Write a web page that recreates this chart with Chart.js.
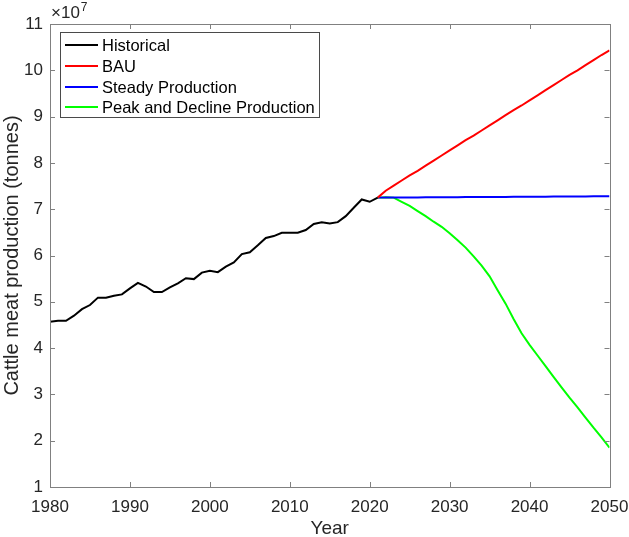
<!DOCTYPE html>
<html><head><meta charset="utf-8">
<script src="https://cdn.jsdelivr.net/npm/chart.js@4/dist/chart.umd.min.js"></script>
<style>html,body{margin:0;padding:0;background:#fff}#wrap{width:629px;height:537px}</style>
</head><body><div id="wrap"><canvas id="c" width="629" height="537"></canvas></div>
<script>
// values in units of 10^7 tonnes
const histYears = [1980,1981,1982,1983,1984,1985,1986,1987,1988,1989,1990,1991,1992,1993,1994,1995,1996,1997,1998,1999,2000,2001,2002,2003,2004,2005,2006,2007,2008,2009,2010,2011,2012,2013,2014,2015,2016,2017,2018,2019,2020,2021];
const histValues = [4.57,4.59,4.59,4.70,4.84,4.93,5.09,5.09,5.13,5.16,5.29,5.41,5.33,5.21,5.21,5.31,5.40,5.51,5.49,5.63,5.67,5.64,5.76,5.85,6.03,6.07,6.22,6.38,6.42,6.49,6.49,6.49,6.55,6.68,6.72,6.69,6.72,6.85,7.03,7.21,7.16,7.25];
const projYears = [2021,2022,2023,2024,2025,2026,2027,2028,2029,2030,2031,2032,2033,2034,2035,2036,2037,2038,2039,2040,2041,2042,2043,2044,2045,2046,2047,2048,2049,2050];
const bauValues = [7.25,7.40,7.51,7.62,7.73,7.83,7.94,8.05,8.16,8.27,8.38,8.49,8.59,8.70,8.81,8.92,9.03,9.14,9.24,9.35,9.46,9.57,9.68,9.79,9.90,10.00,10.11,10.22,10.33,10.43];
const steadyValues = [7.250,7.251,7.252,7.253,7.254,7.255,7.256,7.257,7.258,7.259,7.260,7.261,7.262,7.263,7.264,7.265,7.266,7.267,7.268,7.269,7.270,7.271,7.272,7.273,7.274,7.275,7.276,7.277,7.278,7.279];
const peakValues = [7.25,7.26,7.25,7.16,7.07,6.96,6.85,6.73,6.62,6.48,6.33,6.17,5.98,5.78,5.55,5.25,4.96,4.63,4.32,4.07,3.84,3.61,3.38,3.15,2.93,2.72,2.50,2.28,2.07,1.85];
const seriesLabels = ["Historical","BAU","Steady Production","Peak and Decline Production"];
const seriesColors = ["#000000","#ff0000","#0000ff","#00ff00"];
const xTicks = [1980,1990,2000,2010,2020,2030,2040,2050];
const yTicks = [1,2,3,4,5,6,7,8,9,10,11];

const FONT = "'Liberation Sans', Arial, Helvetica, sans-serif";
const AXIS_COLOR = "#808080";
const TEXT_COLOR = "#262626";

function pts(xs, ys){ return xs.map((x,i)=>({x:x, y:ys[i]})); }

const boxPlugin = {
  id: 'boxTicks',
  afterDatasetsDraw(chart){
    const ctx = chart.ctx, a = chart.chartArea;
    const xs = chart.scales.x, ys = chart.scales.y;
    ctx.save();
    ctx.strokeStyle = AXIS_COLOR; ctx.lineWidth = 1;
    ctx.strokeRect(Math.round(a.left)+0.5, Math.round(a.top)+0.5, Math.round(a.right-a.left), Math.round(a.bottom-a.top));
    const tl = 5;
    ctx.beginPath();
    xTicks.forEach(v=>{
      const px = Math.round(xs.getPixelForValue(v))+0.5;
      ctx.moveTo(px, a.bottom); ctx.lineTo(px, a.bottom - tl);
      ctx.moveTo(px, a.top); ctx.lineTo(px, a.top + tl);
    });
    yTicks.forEach(v=>{
      const py = Math.round(ys.getPixelForValue(v))+0.5;
      ctx.moveTo(a.left, py); ctx.lineTo(a.left + tl, py);
      ctx.moveTo(a.right, py); ctx.lineTo(a.right - tl, py);
    });
    ctx.stroke();
    // exponent label
    ctx.fillStyle = TEXT_COLOR;
    ctx.font = "17px " + FONT;
    ctx.textBaseline = 'alphabetic'; ctx.textAlign = 'left';
    ctx.fillText("\u00d710", a.left + 1, a.top - 6);
    const w = ctx.measureText("\u00d710").width;
    ctx.font = "12px " + FONT;
    ctx.fillText("7", a.left + 1 + w + 1, a.top - 13);
    // legend
    const lx = 60, ly = 32, lw = 259, lh = 85;
    ctx.fillStyle = '#ffffff';
    ctx.fillRect(lx, ly, lw, lh);
    ctx.strokeStyle = '#4a4a4a';
    ctx.strokeRect(lx+0.5, ly+0.5, lw, lh);
    ctx.font = "16.5px " + FONT;
    ctx.textBaseline = 'middle';
    const rowY = [45, 66, 87, 107];
    chart.data.datasets.forEach((ds,i)=>{
      ctx.strokeStyle = ds.borderColor; ctx.lineWidth = 2;
      ctx.beginPath(); ctx.moveTo(65, rowY[i]); ctx.lineTo(98, rowY[i]); ctx.stroke();
      ctx.fillStyle = '#000';
      ctx.fillText(ds.label, 102, rowY[i]+1);
    });
    ctx.restore();
  }
};

new Chart(document.getElementById('c'), {
  type: 'line',
  data: {
    datasets: [
      {label: seriesLabels[0], data: pts(histYears, histValues), borderColor: seriesColors[0]},
      {label: seriesLabels[1], data: pts(projYears, bauValues), borderColor: seriesColors[1]},
      {label: seriesLabels[2], data: pts(projYears, steadyValues), borderColor: seriesColors[2]},
      {label: seriesLabels[3], data: pts(projYears, peakValues), borderColor: seriesColors[3]}
    ]
  },
  options: {
    responsive: false,
    animation: false,
    devicePixelRatio: 1,
    layout: {padding: {top: 24, right: 0, left: 0, bottom: 0}},
    elements: {point: {radius: 0}, line: {borderWidth: 2, tension: 0}},
    plugins: {legend: {display: false}, tooltip: {enabled: false}},
    scales: {
      x: {
        type: 'linear', min: 1980, max: 2050,
        afterBuildTicks(s){ s.ticks = xTicks.map(v=>({value:v})); },
        afterFit(s){ s.height = 50; s.paddingRight = 19.5; s.paddingLeft = 0; },
        grid: {display: false, drawTicks: false},
        border: {display: false},
        ticks: {color: TEXT_COLOR, font: {family: FONT, size: 17}, padding: 10, maxRotation: 0, callback: v => String(v)},
        title: {display: true, text: 'Year', color: TEXT_COLOR, font: {family: FONT, size: 19}, padding: {top: 0, bottom: -3}}
      },
      y: {
        type: 'linear', min: 1, max: 11,
        afterBuildTicks(s){ s.ticks = yTicks.map(v=>({value:v})); },
        afterFit(s){ s.width = 50; s.paddingTop = 0; s.paddingBottom = 0; },
        grid: {display: false, drawTicks: false},
        border: {display: false},
        ticks: {color: TEXT_COLOR, font: {family: FONT, size: 17}, padding: 7, callback: v => String(v)},
        title: {display: true, text: 'Cattle meat production (tonnes)', color: TEXT_COLOR, font: {family: FONT, size: 20}, padding: {top: 0, bottom: 0}}
      }
    }
  },
  plugins: [boxPlugin]
});
</script></body></html>
